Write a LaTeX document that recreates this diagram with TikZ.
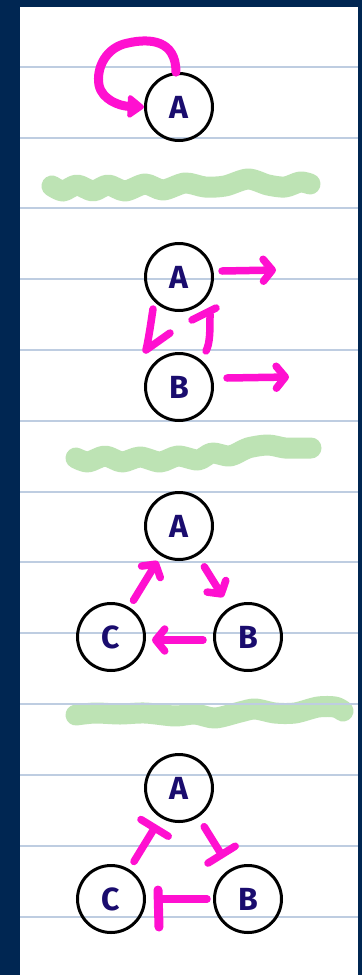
\documentclass[tikz,border=0pt]{standalone}
\usepackage{fontspec}
\setsansfont{Fira Sans}
\usetikzlibrary{arrows.meta,calc}
\definecolor{navy}{RGB}{0,38,82}
\definecolor{magc}{RGB}{255,16,208}
\definecolor{letterc}{RGB}{26,12,110}
\definecolor{rulec}{RGB}{190,205,225}
\definecolor{greenc}{RGB}{189,227,180}
\begin{document}
\begin{tikzpicture}[x=1pt,y=-1pt,
  state/.style={circle,draw=black,line width=3pt,minimum size=67pt,inner sep=0pt,
    font=\sffamily\bfseries\fontsize{32}{32}\selectfont,text=letterc},
  mag/.style={draw=magc,line width=7.5pt,line cap=round,line join=round},
  vtip/.style={-{Straight Barb[length=9pt,width=22pt,round]}},
  ttip/.style={-{Bar[width=32pt,round]}},
  ruleline/.style={draw=rulec,line width=1.3pt},
  scribble/.style={draw=greenc,line width=21pt,line cap=round,line join=round}]
% background and paper
\fill[navy] (0,0) rectangle (362,975);
\fill[white] (20,7) rectangle (358,975);
% scribbles
\draw[scribble] plot[smooth] coordinates {(52,186) (63,191) (77,185) (93,191) (108,185) (125,191) (145,184) (163,190) (185,183) (205,187) (225,186) (248,179) (268,185) (285,187) (300,182) (310,184)};
\draw[scribble] plot[smooth] coordinates {(76,458) (88,462) (105,456) (122,462) (140,457) (160,462) (178,456) (198,460) (212,453) (230,456) (248,448) (268,445) (285,448) (300,448) (311,448)};
\draw[scribble] plot[smooth] coordinates {(76,715) (95,713) (120,714) (145,713) (175,716) (195,714) (215,718) (240,712) (255,709) (275,713) (295,713) (318,707) (335,707) (343,711)};
% ruled lines
\foreach \yy in {67,138,208,279,350,421,492,562,633,704,775,846,917}
  \draw[ruleline] (20,\yy) -- (358,\yy);
% diagram 1
\node[state] (A1) at (179,107) {A};
\draw[draw=magc,line width=9pt,line cap=round,line join=round,-{Triangle[length=18pt,width=26pt,round]}]
  (A1.95) .. controls (176,40) and (150,38) .. (128,43)
  .. controls (106,47) and (96,68) .. (99,85)
  .. controls (102,100) and (120,106) .. (A1.west);
% diagram 2
\node[state] (A2) at (179,277) {A};
\node[state] (B2) at (179,387) {B};
\coordinate (a2out) at (276,270);
\coordinate (b2out) at (289,377);
\draw[mag,vtip] ($(A2.east)+(8,-6)$) -- (a2out);
\draw[mag,vtip] ($(B2.east)+(13,-9)$) -- (b2out);
\draw[mag] ($(A2)+(-26,32)$) .. controls ($(A2)+(-28,45)$) and ($(A2)+(-30,60)$) .. ($(B2)+(-33,-37)$) -- ($(B2)+(-9,-54)$);
\draw[mag] ($(B2)+(27,-36)$) .. controls ($(B2)+(31,-44)$) and ($(A2)+(31,55)$) .. ($(A2)+(31,37)$);
\draw[mag] ($(A2)+(13,43)$) -- ($(A2)+(37,31)$);
% diagram 3
\node[state] (A3) at (179,526) {A};
\node[state] (B3) at (248,637) {B};
\node[state] (C3) at (111,637) {C};
\draw[mag,vtip,shorten <=8pt,shorten >=6pt] (C3) -- (A3);
\draw[mag,vtip,shorten <=13pt,shorten >=12pt] (A3) -- (B3);
\draw[mag,vtip,shorten <=10pt,shorten >=6pt,transform canvas={yshift=-3pt}] (B3) -- (C3);
% diagram 4
\node[state] (A4) at (179,788) {A};
\node[state] (B4) at (248,899) {B};
\node[state] (C4) at (111,899) {C};
\draw[mag,ttip,shorten <=9pt,shorten >=8pt] (C4) -- (A4);
\draw[mag,ttip,shorten <=7pt,shorten >=17pt,transform canvas={xshift=3pt,yshift=-3pt}] (A4) -- (B4);
\draw[mag,shorten <=6pt,shorten >=14pt] (B4) -- (C4);
\draw[mag,line width=9pt] ($(C4)+(47,-9)$) -- ($(C4)+(48,28)$);
\end{tikzpicture}
\end{document}
